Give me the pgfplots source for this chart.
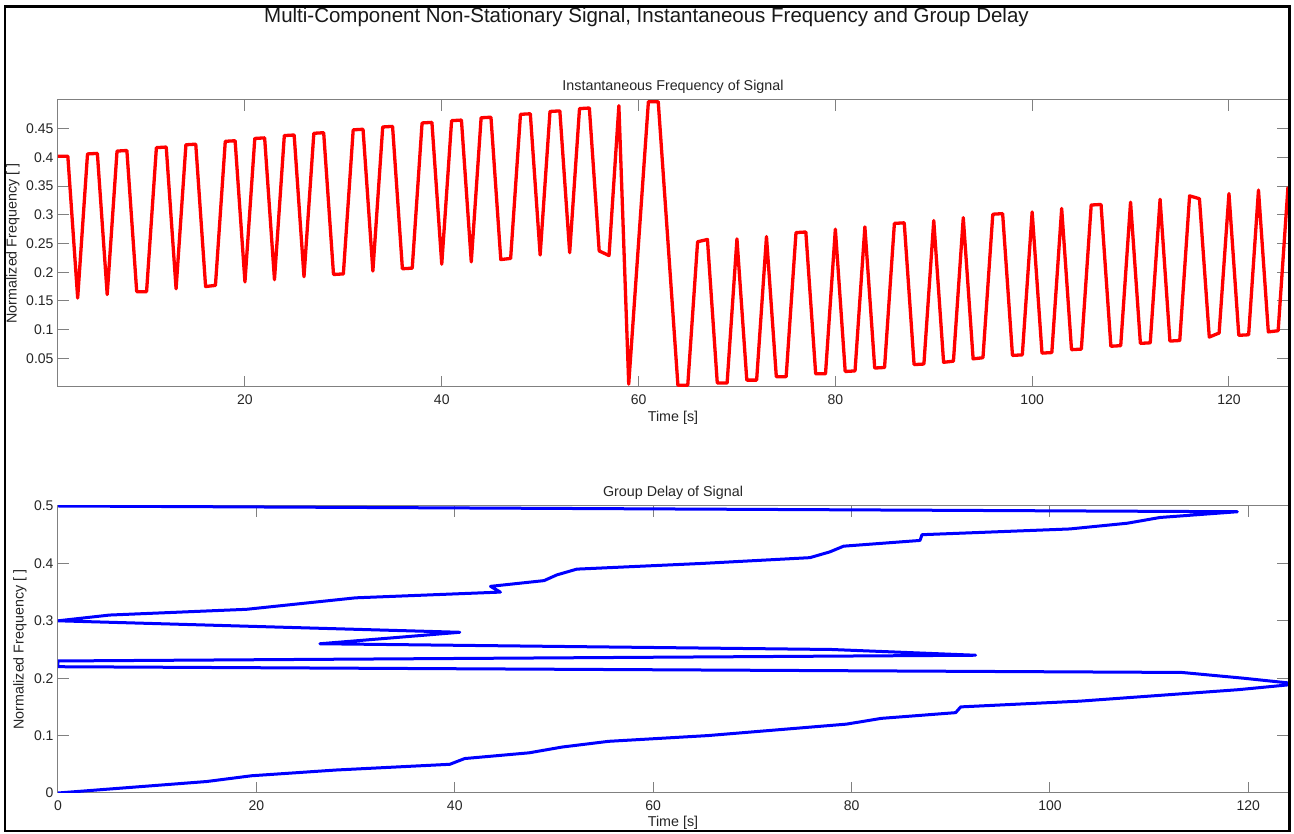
\documentclass[border=0pt]{standalone}
\usepackage{fontspec}
\setmainfont{Liberation Sans}
\usepackage{pgfplots}
\usepackage{pgfplotstable}
\pgfplotsset{compat=1.18}

\pgfplotstableread{
t f
1 0.402
2 0.402
3 0.155
4 0.406
5 0.407
6 0.161
7 0.411
8 0.412
9 0.166
10 0.166
11 0.417
12 0.418
13 0.171
14 0.422
15 0.423
16 0.175
17 0.177
18 0.428
19 0.429
20 0.183
21 0.433
22 0.434
23 0.187
24 0.438
25 0.439
26 0.192
27 0.442
28 0.443
29 0.196
30 0.197
31 0.448
32 0.449
33 0.202
34 0.453
35 0.454
36 0.206
37 0.207
38 0.460
39 0.461
40 0.214
41 0.464
42 0.465
43 0.218
44 0.469
45 0.470
46 0.222
47 0.224
48 0.475
49 0.476
50 0.230
51 0.480
52 0.481
53 0.234
54 0.485
55 0.486
56 0.237
57 0.229
58 0.490
59 0.005
60 0.251
61 0.497
62 0.497
63 0.250
64 0.003
65 0.003
66 0.253
67 0.257
68 0.007
69 0.007
70 0.258
71 0.012
72 0.012
73 0.262
74 0.018
75 0.018
76 0.269
77 0.270
78 0.023
79 0.023
80 0.275
81 0.027
82 0.028
83 0.279
84 0.033
85 0.034
86 0.285
87 0.286
88 0.039
89 0.040
90 0.290
91 0.043
92 0.045
93 0.295
94 0.049
95 0.051
96 0.301
97 0.302
98 0.055
99 0.056
100 0.305
101 0.059
102 0.060
103 0.311
104 0.065
105 0.066
106 0.317
107 0.318
108 0.071
109 0.072
110 0.322
111 0.076
112 0.077
113 0.327
114 0.080
115 0.081
116 0.333
117 0.328
118 0.087
119 0.094
120 0.337
121 0.090
122 0.091
123 0.343
124 0.096
125 0.098
126 0.349
}\instfreq

\pgfplotstableread{
t f
0 0
7.5 0.01
15 0.02
19.5 0.03
28 0.04
39.5 0.05
41 0.06
47.5 0.07
50.8 0.08
55.5 0.09
65.5 0.10
72.5 0.11
79.5 0.12
83 0.13
90.5 0.14
91 0.15
103 0.16
111 0.17
119 0.18
125 0.19
119.5 0.20
113.3 0.21
0 0.22
0 0.23
92.5 0.24
78 0.25
26.4 0.26
33.5 0.27
40.5 0.28
20.2 0.29
0 0.30
5.2 0.31
19 0.32
24.5 0.33
30 0.34
44.6 0.35
43.6 0.36
49 0.37
50.3 0.38
52.3 0.39
65 0.40
75.8 0.41
77.8 0.42
79.2 0.43
86.9 0.44
87.1 0.45
102 0.46
107.8 0.47
111.1 0.48
118.9 0.49
0 0.50
}\groupdelay

\pgfplotsset{
  mystyle/.style={
    scale only axis,
    width=1230pt, height=287pt,
    anchor=south west,
    axis line style={black!50, line width=1pt},
    every tick/.style={black!50, line width=1pt},
    major tick length=11pt,
    tick align=inside,
    tick label style={font=\fontsize{14}{16}\selectfont, text=black!85},
    /pgf/number format/assume math mode=true,
    xticklabel style={yshift=-4pt},
    yticklabel style={xshift=-1pt},
    label style={font=\fontsize{14.3}{16}\selectfont, text=black!85},
    title style={font=\fontsize{14.3}{16}\selectfont, text=black!85, at={(axis description cs:0.5,1.024)}, anchor=center},
    xlabel style={at={(axis description cs:0.5,-0.108)}, anchor=center},
    clip=true,
  }
}

\begin{document}
\begin{tikzpicture}
\useasboundingbox (0,0) rectangle (1294pt,834pt);
\fill[white] (0,0) rectangle (1294pt,834pt);

\begin{axis}[mystyle,
  at={(58pt,447pt)},
  xmin=1, xmax=126, ymin=0, ymax=0.5,
  xtick={20,40,60,80,100,120},
  ytick={0.05,0.1,0.15,0.2,0.25,0.3,0.35,0.4,0.45},
  yticklabels={0.05,0.1,0.15,0.2,0.25,0.3,0.35,0.4,0.45},
  title={Instantaneous Frequency of Signal},
  xlabel={Time [s]},
  ylabel={Normalized Frequency [ ]},
  ylabel style={at={(axis description cs:-0.0366,0.5)}, anchor=center},
]
\addplot[red, line width=3.3pt, line join=round] table[x=t, y=f] {\instfreq};
\end{axis}

\begin{axis}[mystyle,
  at={(58pt,41pt)},
  xmin=0, xmax=124, ymin=0, ymax=0.5,
  xtick={0,20,40,60,80,100,120},
  ytick={0,0.1,0.2,0.3,0.4,0.5},
  yticklabels={0,0.1,0.2,0.3,0.4,0.5},
  title={Group Delay of Signal},
  xlabel={Time [s]},
  ylabel={Normalized Frequency [ ]},
  xlabel style={at={(axis description cs:0.5,-0.1045)}, anchor=center},
  ylabel style={at={(axis description cs:-0.031,0.5)}, anchor=center},
]
\addplot[blue, line width=3pt, line join=round] table[x=t, y=f] {\groupdelay};
\end{axis}

\node[anchor=center, font=\fontsize{20.5}{24}\selectfont, text=black!90] at (646.5pt,817pt) {Multi-Component Non-Stationary Signal, Instantaneous Frequency and Group Delay};

\fill[white] (1290pt,0) rectangle (1294pt,834pt);
\draw[black, line width=2.5pt] (5pt,3pt) rectangle (1289.5pt,827.5pt);
\end{tikzpicture}
\end{document}
